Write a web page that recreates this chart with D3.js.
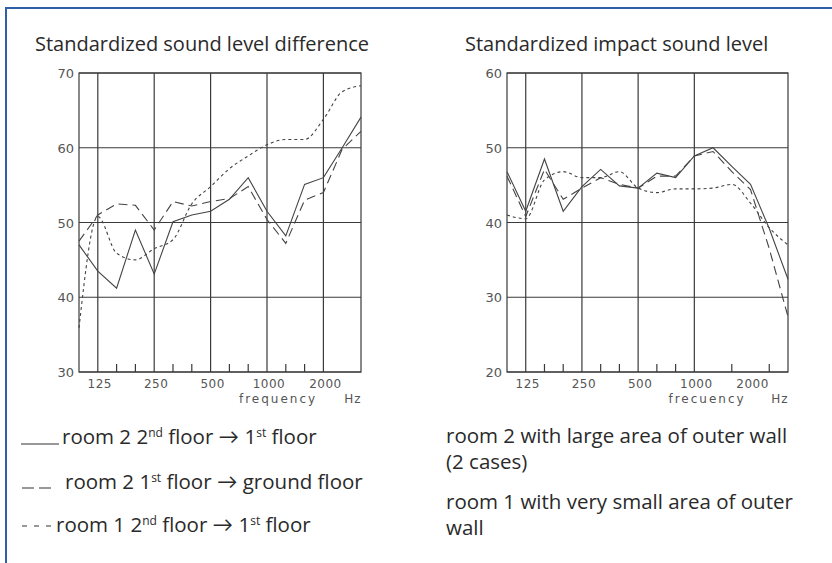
<!DOCTYPE html>
<html><head><meta charset="utf-8">
<script src="https://cdn.jsdelivr.net/npm/d3@7"></script>
<style>
html,body{margin:0;padding:0;background:#fff;}
svg{display:block;}
</style></head>
<body>
<svg id="chart" width="832" height="563"></svg>
<script>
// ---- data ----
const bands = [100,125,160,200,250,315,400,500,630,800,1000,1250,1600,2000,2500,3150];
const xLabels = [125,250,500,1000,2000];

const leftTitle = "Standardized sound level difference";
const leftYTicks = [30,40,50,60,70];
const leftGrid = [125,250,500,1000,2000];
const leftMinor = [160,200,315,400,630,800,1250,1600];
const leftSolid     = [47.0,43.5,41.2,49.0,43.1,50.1,51.0,51.5,53.1,56.0,51.5,48.2,55.1,56.0,60.0,64.1];
const leftLongDash  = [47.5,51.0,52.5,52.3,49.0,52.8,52.2,52.8,53.2,54.8,50.4,47.2,53.0,54.0,59.8,62.2];
const leftShortDash = [35.9,50.8,45.9,45.0,46.5,47.7,52.5,54.8,57.2,58.9,60.4,61.1,61.1,63.8,67.5,68.3];

const rightTitle = "Standardized impact sound level";
const rightYTicks = [20,30,40,50,60];
const rightGrid = [125,250,500,1000];
const rightMinor = [160,200,315,400,630,800,1600,2500];
const rightSolid     = [46.8,41.5,48.5,41.5,44.8,47.1,44.9,44.6,46.6,46.0,48.9,50.0,47.5,45.1,39.2,32.4];
const rightLongDash  = [46.2,40.8,47.1,43.1,44.6,46.0,45.1,44.6,46.2,46.2,48.9,49.5,46.8,44.4,36.5,27.4];
const rightShortDash = [41.0,40.5,45.7,46.8,46.0,46.0,46.8,44.6,44.0,44.5,44.5,44.6,45.1,42.6,39.3,37.0];

const leftLegend = [
  {kind:"solid", parts:[["room 2 2",""],["nd","sup"],[" floor ",""],["\u2192","arrow"],[" 1",""],["st","sup"],[" floor",""]]},
  {kind:"long",  parts:[["room 2 1",""],["st","sup"],[" floor ",""],["\u2192","arrow"],[" ground floor",""]]},
  {kind:"short", parts:[["room 1 2",""],["nd","sup"],[" floor ",""],["\u2192","arrow"],[" 1",""],["st","sup"],[" floor",""]]}
];
const rightLegend = [
  ["room 2 with large area of outer wall","(2 cases)"],
  ["room 1 with very small area of outer","wall"]
];

// ---- drawing ----
const svg = d3.select("#chart");
const textFont = "'Open Sans', 'Noto Sans', sans-serif";
const axisFont = "'DejaVu Sans', sans-serif";
const gridColor = "#3a3a3a";
const lineColor = "#444";
const dashStyles = {solid:null, long:"9,5", short:"3,3"};

// frame
svg.append("path").attr("d","M6,563V8H832").attr("fill","none")
  .attr("stroke","#2f5fa8").attr("stroke-width",2);

function panel(cfg){
  const g = svg.append("g");
  const x = d3.scalePoint().domain(bands).range([cfg.x0, cfg.x1]).padding(0);
  const y = d3.scaleLinear().domain([cfg.yTicks[0], cfg.yTicks[cfg.yTicks.length-1]]).range([cfg.y1, cfg.y0]);

  g.append("text").attr("x", cfg.titleX).attr("y", 51)
    .attr("font-family", textFont).attr("font-size", 20).attr("fill","#2a2a2a")
    .text(cfg.title);

  g.selectAll(".hg").data(cfg.yTicks).join("line")
    .attr("x1", cfg.x0).attr("x2", cfg.x1)
    .attr("y1", d=>y(d)).attr("y2", d=>y(d))
    .attr("stroke", gridColor).attr("stroke-width",1.2);
  g.selectAll(".vg").data(cfg.grid).join("line")
    .attr("x1", d=>x(d)).attr("x2", d=>x(d))
    .attr("y1", cfg.y0).attr("y2", cfg.y1)
    .attr("stroke", gridColor).attr("stroke-width",1.2);
  g.selectAll(".mt").data(cfg.minor).join("line")
    .attr("x1", d=>x(d)).attr("x2", d=>x(d))
    .attr("y1", cfg.y1).attr("y2", cfg.y1-8)
    .attr("stroke", gridColor).attr("stroke-width",1.2);
  g.append("rect").attr("x", cfg.x0).attr("y", cfg.y0)
    .attr("width", cfg.x1-cfg.x0).attr("height", cfg.y1-cfg.y0)
    .attr("fill","none").attr("stroke", gridColor).attr("stroke-width",1.2);

  g.selectAll(".yl").data(cfg.yTicks).join("text")
    .attr("x", cfg.x0-5).attr("y", d=>y(d)+5)
    .attr("text-anchor","end").attr("font-family", axisFont).attr("font-size",13)
    .attr("fill","#555").text(d=>d);
  g.selectAll(".xl").data(xLabels).join("text")
    .attr("x", d=>x(d)+2).attr("y", cfg.y1+16)
    .attr("text-anchor","middle").attr("font-family", axisFont).attr("font-size",12)
    .attr("fill","#555").attr("letter-spacing",0.5).text(d=>d);
  g.append("text").attr("x", cfg.freqX).attr("y", cfg.y1+31)
    .attr("text-anchor","middle").attr("font-family", axisFont).attr("font-size",12)
    .attr("fill","#555").attr("letter-spacing",2).text(cfg.freqLabel);
  g.append("text").attr("x", cfg.hzX).attr("y", cfg.y1+31)
    .attr("text-anchor","middle").attr("font-family", axisFont).attr("font-size",12)
    .attr("fill","#555").attr("letter-spacing",1).text("Hz");

  cfg.series.forEach(s=>{
    const line = d3.line().x((d,i)=>x(bands[i])).y(d=>y(d))
      .curve(s.kind==="short" ? d3.curveMonotoneX : d3.curveLinear);
    g.append("path").datum(s.values).attr("d", line)
      .attr("fill","none").attr("stroke", lineColor).attr("stroke-width",1.1)
      .attr("stroke-dasharray", dashStyles[s.kind]);
  });
}

panel({title:leftTitle, titleX:35, x0:79, x1:361, y0:73, y1:372,
  yTicks:leftYTicks, grid:leftGrid, minor:leftMinor,
  freqLabel:"frequency", freqX:278, hzX:353,
  series:[{kind:"solid",values:leftSolid},{kind:"long",values:leftLongDash},{kind:"short",values:leftShortDash}]});

panel({title:rightTitle, titleX:465, x0:507, x1:788, y0:73, y1:372,
  yTicks:rightYTicks, grid:rightGrid, minor:rightMinor,
  freqLabel:"frecuency", freqX:707, hzX:780,
  series:[{kind:"solid",values:rightSolid},{kind:"long",values:rightLongDash},{kind:"short",values:rightShortDash}]});

// left legend
const legBase = [444, 489, 532];
leftLegend.forEach((item,i)=>{
  const yb = legBase[i];
  const lg = svg.append("g");
  if(item.kind==="solid"){
    lg.append("line").attr("x1",21).attr("x2",59).attr("y1",yb).attr("y2",yb)
      .attr("stroke","#333").attr("stroke-width",1.2);
  } else if(item.kind==="long"){
    lg.append("line").attr("x1",22).attr("x2",52).attr("y1",yb-1).attr("y2",yb-1)
      .attr("stroke","#333").attr("stroke-width",1.2).attr("stroke-dasharray","12,5");
  } else {
    lg.append("line").attr("x1",22).attr("x2",51).attr("y1",yb-6).attr("y2",yb-6)
      .attr("stroke","#333").attr("stroke-width",1.2).attr("stroke-dasharray","5,7");
  }
  const t = lg.append("text").attr("x", item.kind==="long"?65:(item.kind==="short"?56:62)).attr("y", yb)
    .attr("font-family", textFont).attr("font-size",20.5).attr("fill","#2a2a2a");
  let prevSup = false;
  item.parts.forEach(p=>{
    const ts = t.append("tspan").text(p[0]);
    if(p[1]==="sup"){ ts.attr("font-size",12).attr("dy",-7); prevSup = true; }
    else {
      ts.attr("dy", prevSup ? 7 : 0); prevSup = false;
      if(p[1]==="arrow") ts.attr("font-family","Lato, sans-serif");
    }
  });
});

// right legend
const rightBase = [[443,469],[509,535]];
rightLegend.forEach((lines,i)=>{
  lines.forEach((ln,j)=>{
    svg.append("text").attr("x",446).attr("y",rightBase[i][j])
      .attr("font-family", textFont).attr("font-size",20.5).attr("fill","#2a2a2a").text(ln);
  });
});
</script>
</body></html>
